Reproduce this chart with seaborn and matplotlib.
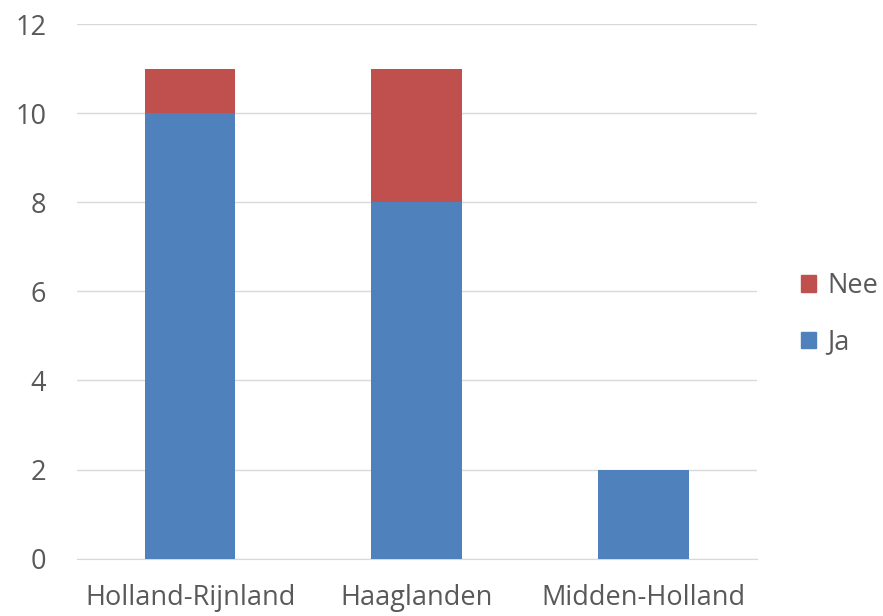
import matplotlib
matplotlib.use("Agg")
import matplotlib.pyplot as plt
import seaborn as sns
import pandas as pd
from matplotlib.patches import Patch

# data
regions = ["Holland-Rijnland", "Haaglanden", "Midden-Holland"]
ja = [10, 8, 2]
nee = [1, 3, 0]

blue = "#4F81BD"
red = "#C0504D"
text_color = "#595959"

df = pd.DataFrame({"regio": regions, "Ja": ja, "Nee": nee})
df["totaal"] = df["Ja"] + df["Nee"]

sns.set_style("white")
plt.rcParams["font.family"] = ["Open Sans", "DejaVu Sans"]

fig = plt.figure(figsize=(8.83, 6.16), dpi=100)
ax = fig.add_axes([0.087, 0.093, 0.77, 0.868])

# stacked: total in red, Ja in blue over it
sns.barplot(data=df, x="regio", y="totaal", color=red, width=0.4,
            saturation=1, linewidth=0, ax=ax, zorder=2)
sns.barplot(data=df, x="regio", y="Ja", color=blue, width=0.4,
            saturation=1, linewidth=0, ax=ax, zorder=3)

ax.set_ylim(0, 12)
ax.set_yticks(range(0, 13, 2))
ax.set_xlim(-0.5, 2.5)
ax.yaxis.grid(True, color="#D9D9D9", linewidth=1, zorder=0)
ax.set_axisbelow(True)
for side in ["top", "right", "left"]:
    ax.spines[side].set_visible(False)
ax.spines["bottom"].set_color("#D9D9D9")
ax.set_xlabel("")
ax.set_ylabel("")
ax.tick_params(axis="both", length=0, labelsize=19.5, colors=text_color)
ax.tick_params(axis="y", pad=22)
ax.tick_params(axis="x", pad=18)

handles = [Patch(color=red, label="Nee"), Patch(color=blue, label="Ja")]
fig.legend(handles=handles, loc="center left", bbox_to_anchor=(0.88, 0.49),
           frameon=False, fontsize=19.5, labelcolor=text_color,
           handlelength=0.55, handleheight=0.55, handletextpad=0.4,
           labelspacing=1.05)

fig.savefig("out.png", dpi=100)
